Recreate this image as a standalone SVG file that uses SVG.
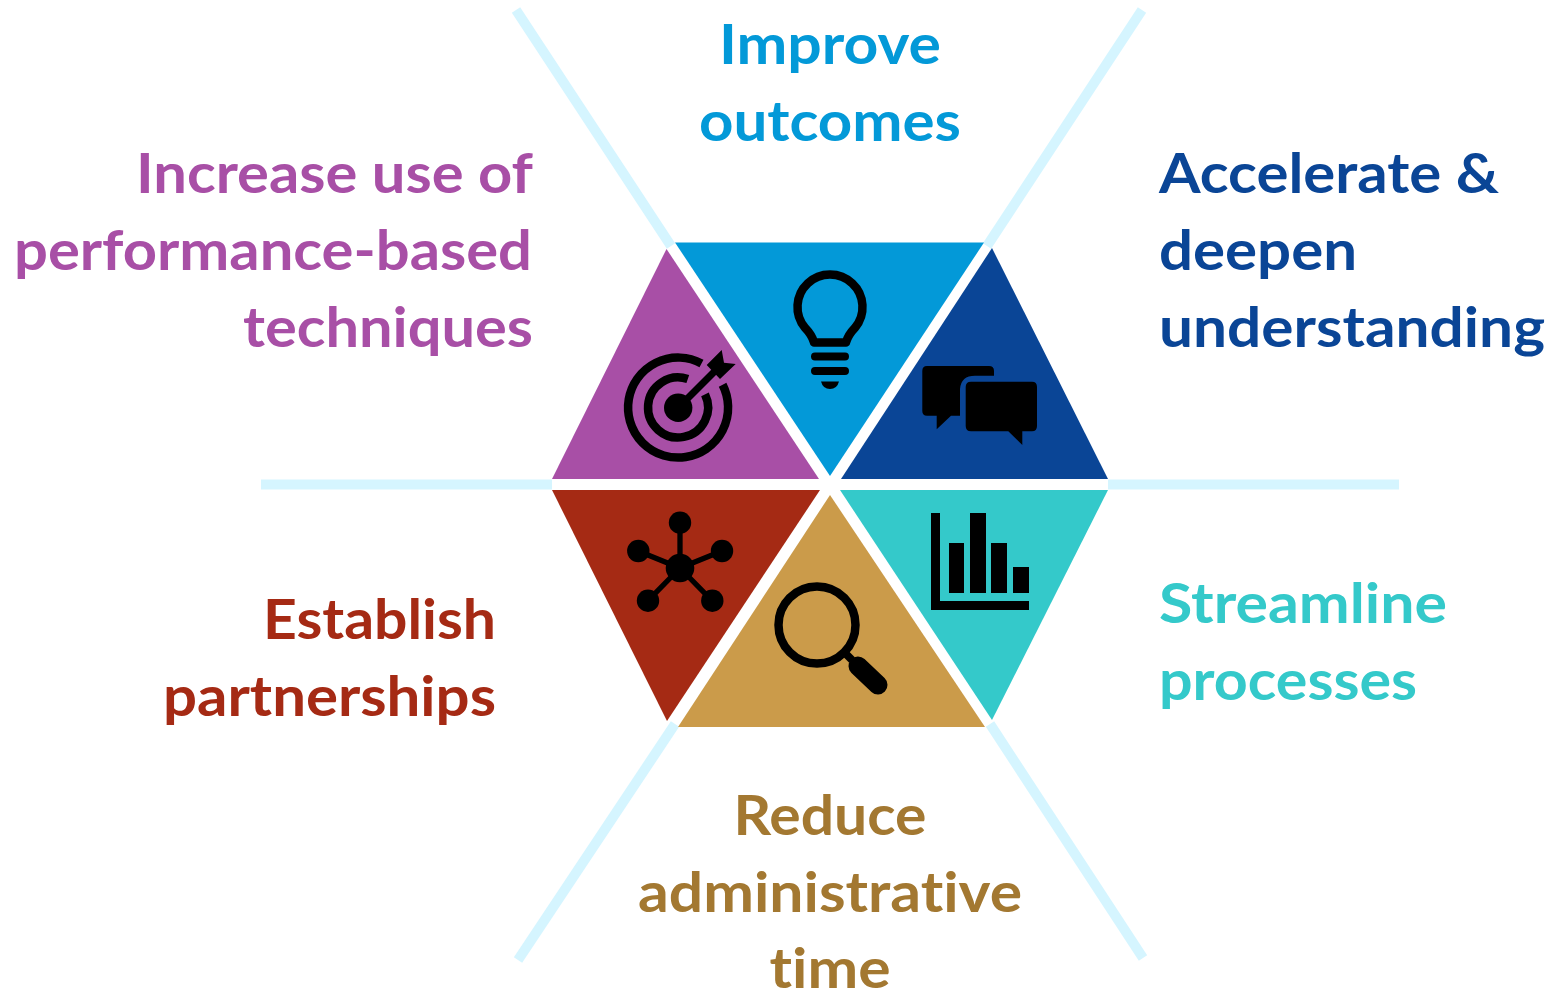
<svg xmlns="http://www.w3.org/2000/svg" width="1554" height="992" viewBox="0 0 1554 992">
<style>
.t{font-family:Lato,"Open Sans",sans-serif;font-weight:700;font-size:56px;font-variant-ligatures:none}
.m{text-anchor:middle}.e{text-anchor:end}
.sp{stroke:#d5f5ff;stroke-width:10;fill:none}
.ol{fill:none;stroke:#000}
</style>
<rect width="1554" height="992" fill="#fff"/>
<g id="connectors" class="sp">
<path d="M516 10L671 246"/><path d="M1142 10L987 246"/><path d="M261 484.500H552"/><path d="M1108 484.500H1399"/><path d="M518 960L675 724"/><path d="M1143 958L990 724"/>
</g>
<g id="node-improve">
<path d="M675 242.500H984L830 476Z" fill="#0399d8"/>
<path d="M814 342.500H846Q848 335 855 327.800A32.500 32.500 0 1 0 805 327.800Q812 335 814 342.500Z" class="ol" stroke-width="8.500" stroke-linejoin="round"/>
<path d="M815 356.500H845M815 371H845" class="ol" stroke-width="8" stroke-linecap="round"/>
<path d="M821 381.500H839Q837 389 830 389Q823 389 821 381.500Z"/>
<text class="t m" x="830" y="63.500" fill="#0399d8" textLength="222" lengthAdjust="spacingAndGlyphs">Improve</text>
<text class="t m" x="830" y="140.500" fill="#0399d8" textLength="262" lengthAdjust="spacingAndGlyphs">outcomes</text>
</g>
<g id="node-accelerate">
<path d="M992 248L1108 479H841Z" fill="#0a4596"/>
<path d="M927 366H989Q994 366 994 371V375.700H975Q961 375.700 960 389V415.700H951L936.700 429.300V415.700H927Q922.300 415.700 922.300 411V371Q922.300 366 927 366Z"/>
<path d="M971 381.700H1032Q1037 381.700 1037 387V426Q1037 431.300 1032 431.300H1022.300V445L1008.300 431.300H971Q965.700 431.300 965.700 426V387Q965.700 381.700 971 381.700Z"/>
<text class="t" x="1159" y="192.500" fill="#0a4596" textLength="340" lengthAdjust="spacingAndGlyphs">Accelerate &amp;</text>
<text class="t" x="1159" y="269.500" fill="#0a4596" textLength="198" lengthAdjust="spacingAndGlyphs">deepen</text>
<text class="t" x="1159" y="346.500" fill="#0a4596" textLength="386" lengthAdjust="spacingAndGlyphs">understanding</text>
</g>
<g id="node-streamline">
<path d="M840 490H1108L992 720Z" fill="#34c9ca"/>
<path d="M931 513H940V601H1029V610H931Z"/>
<path d="M949 543H964V593H949ZM970 513H986V593H970ZM991 543H1007V593H991ZM1013 567H1029V593H1013Z"/>
<text class="t" x="1159" y="623" fill="#34c9ca" textLength="288" lengthAdjust="spacingAndGlyphs">Streamline</text>
<text class="t" x="1159" y="700" fill="#34c9ca" textLength="258" lengthAdjust="spacingAndGlyphs">processes</text>
</g>
<g id="node-reduce">
<path d="M830 495L985 727H678Z" fill="#cb9b4a"/>
<circle cx="817" cy="625" r="38.500" class="ol" stroke-width="8.500"/>
<path d="M845 653L852 660" class="ol" stroke-width="8"/>
<path d="M858 666L878 685" class="ol" stroke-width="19" stroke-linecap="round"/>
<text class="t m" x="830" y="835" fill="#a37831" textLength="193" lengthAdjust="spacingAndGlyphs">Reduce</text>
<text class="t m" x="830" y="912" fill="#a37831" textLength="384" lengthAdjust="spacingAndGlyphs">administrative</text>
<text class="t m" x="830" y="988" fill="#a37831" textLength="121" lengthAdjust="spacingAndGlyphs">time</text>
</g>
<g id="node-partnerships">
<path d="M552 490H820L667 721Z" fill="#a52a14"/>
<path d="M680 568V523M680 568L638 551M680 568L722 551M680 568L648 600.700M680 568L712 600.700" class="ol" stroke-width="5.300"/>
<circle cx="680" cy="568" r="14.300"/><circle cx="680" cy="522.700" r="11.200"/><circle cx="638.300" cy="551" r="11.200"/><circle cx="722" cy="551" r="11.200"/><circle cx="648" cy="600.700" r="11.200"/><circle cx="712.300" cy="600.700" r="11.200"/>
<text class="t e" x="496" y="639" fill="#a52a14" textLength="233" lengthAdjust="spacingAndGlyphs">Establish</text>
<text class="t e" x="496" y="716" fill="#a52a14" textLength="333" lengthAdjust="spacingAndGlyphs">partnerships</text>
</g>
<g id="node-increase">
<path d="M666.500 249L819 479H552Z" fill="#a84fa6"/>
<path d="M701.500 363.400A50 50 0 1 0 722.600 384.800" class="ol" stroke-width="8.500"/>
<path d="M687.800 379.100A30 30 0 1 0 705 394.300" class="ol" stroke-width="8.500"/>
<circle cx="678.200" cy="407.700" r="14.200"/>
<path d="M678 408L716 370" class="ol" stroke-width="7"/>
<path d="M706.700 365L721.700 350L724 362.700L735.700 364L720 379Z"/>
<text class="t e" x="533" y="192.500" fill="#a84fa6" textLength="397" lengthAdjust="spacingAndGlyphs">Increase use of</text>
<text class="t e" x="532" y="269.500" fill="#a84fa6" textLength="518" lengthAdjust="spacingAndGlyphs">performance-based</text>
<text class="t e" x="533" y="346.500" fill="#a84fa6" textLength="290" lengthAdjust="spacingAndGlyphs">techniques</text>
</g>
</svg>
